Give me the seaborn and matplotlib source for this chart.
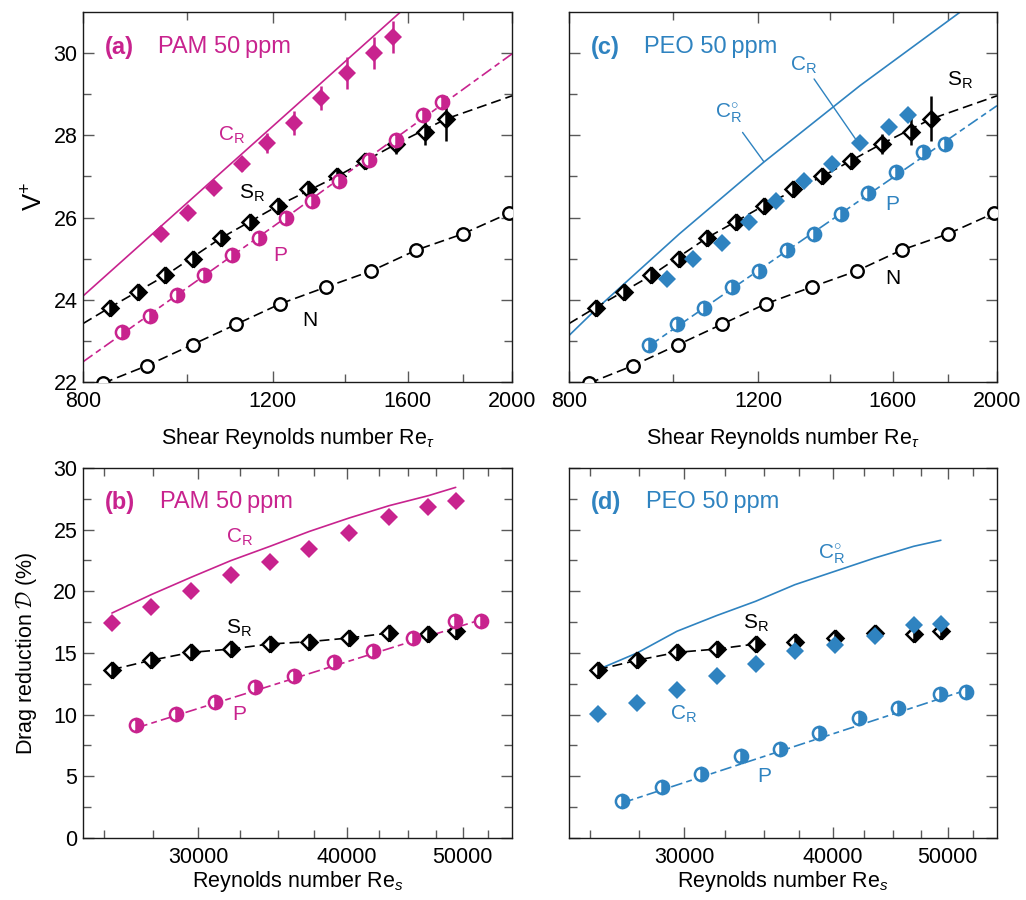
import numpy as np
import pandas as pd
import matplotlib
matplotlib.use("Agg")
import matplotlib.pyplot as plt
from matplotlib.ticker import FixedLocator, NullFormatter
import seaborn as sns

# ---------------- data : top row (velocity V+ vs Re_tau) ----------------
n_retau = [835, 918, 1011, 1109, 1219, 1345, 1481, 1631, 1800, 1989]
n_vplus = [21.97, 22.40, 22.91, 23.40, 23.90, 24.31, 24.70, 25.21, 25.60, 26.11]

sr_retau = [847, 899, 954, 1012, 1074, 1143, 1214, 1293, 1376, 1462, 1562, 1662, 1738]
sr_vplus = [23.81, 24.20, 24.59, 25.00, 25.50, 25.90, 26.29, 26.70, 27.00, 27.38, 27.79, 28.09, 28.40]
sr_vplus_err = [0, 0, 0, 0.12, 0, 0, 0, 0, 0.10, 0.20, 0.24, 0.32, 0.55]
sr_fit_retau = [800, 847, 954, 1074, 1214, 1376, 1562, 1738, 2000]
sr_fit_vplus = [23.42, 23.81, 24.59, 25.50, 26.29, 27.00, 27.79, 28.40, 28.96]

pam_p_retau = [870, 923, 977, 1036, 1100, 1166, 1234, 1304, 1383, 1473, 1562, 1654, 1722]
pam_p_vplus = [23.21, 23.61, 24.11, 24.59, 25.09, 25.50, 25.99, 26.39, 26.90, 27.40, 27.89, 28.50, 28.80]
pam_p_fit_retau = [800, 1234, 2000]
pam_p_fit_vplus = [22.49, 26.00, 29.98]

pam_cr_retau = [946, 1002, 1058, 1123, 1186, 1256, 1329, 1405, 1490, 1551]
pam_cr_vplus = [25.60, 26.11, 26.71, 27.30, 27.81, 28.30, 28.91, 29.51, 30.00, 30.40]
pam_cr_err = [0, 0, 0.12, 0.18, 0.24, 0.30, 0.30, 0.39, 0.39, 0.39]
pam_cr_line_retau = [800, 1700]
pam_cr_line_vplus = [24.09, 31.77]

peo_cr_retau = [986, 1044, 1111, 1177, 1247, 1322, 1404, 1492, 1586, 1653]
peo_cr_vplus = [24.51, 25.00, 25.38, 25.90, 26.39, 26.90, 27.30, 27.81, 28.19, 28.49]
peo_p_retau = [950, 1009, 1069, 1135, 1202, 1275, 1352, 1433, 1519, 1611, 1707, 1788]
peo_p_vplus = [22.91, 23.40, 23.81, 24.31, 24.70, 25.20, 25.60, 26.09, 26.59, 27.10, 27.60, 27.79]
peo_p_fit_retau = [950, 2000]
peo_p_fit_vplus = [22.88, 28.72]
peo_cr0_retau = [800, 847, 1013, 1213, 1492, 1849, 2000]
peo_cr0_vplus = [23.13, 23.76, 25.60, 27.34, 29.21, 31.00, 31.60]

# ---------------- data : bottom row (drag reduction vs Re_s) ----------------
res_cr = [25380, 27380, 29580, 31940, 34450, 37180, 40160, 43390, 46800, 49330]
res_p = [26600, 28730, 30980, 33470, 36110, 38990, 42070, 45390, 49270, 51800]
sr_dr = [13.65, 14.41, 15.05, 15.32, 15.73, 15.92, 16.22, 16.62, 16.54, 16.81]
pam_cr_dr = [17.43, 18.73, 20.00, 21.30, 22.38, 23.43, 24.73, 26.00, 26.81, 27.35]
pam_cr_dr_line = [18.24, 19.73, 21.14, 22.49, 23.65, 24.86, 25.95, 26.95, 27.76, 28.43]
pam_p_dr = [9.19, 10.08, 11.00, 12.22, 13.11, 14.24, 15.19, 16.22, 17.57, 17.62]
pam_p_dr_line_res = [26600, 51800]
pam_p_dr_line = [8.92, 17.70]
peo_cr_dr = [10.08, 10.95, 12.03, 13.11, 14.11, 15.19, 15.62, 16.35, 17.24, 17.35]
peo_cr0_dr = [13.65, 15.00, 16.76, 18.03, 19.19, 20.54, 21.62, 22.70, 23.65, 24.14]
peo_p_dr = [2.97, 4.11, 5.19, 6.62, 7.22, 8.51, 9.73, 10.54, 11.70, 11.81]
peo_p_dr_line_res = [26600, 51740]
peo_p_dr_line = [2.84, 11.97]

top_major = [800, 1200, 1600, 2000]
top_minor = [1000, 1400, 1800]
bot_major = [30000, 40000, 50000]
bot_minor = [25000, 27500, 32500, 35000, 37500, 42500, 45000, 47500, 52500]

# ---------------- style ----------------
sns.set_theme(style="ticks")
plt.rcParams["font.family"] = ["Liberation Sans", "DejaVu Sans"]
plt.rcParams["mathtext.fontset"] = "custom"
plt.rcParams["mathtext.rm"] = "Liberation Sans"
plt.rcParams["mathtext.it"] = "Liberation Sans:italic"
plt.rcParams["mathtext.sf"] = "Liberation Sans"
plt.rcParams["text.color"] = "black"
plt.rcParams["axes.labelcolor"] = "black"

MAG = "#C8238E"
BLU = "#2F83C0"
BLK = "black"
FS_TICK = 15.5
FS_LAB = 15.5
FS_ANN = 15
FS_TITLE = 17

dash_k = (0, (6, 3))
dash_p = (0, (7, 2.5, 3.5, 2.5))

fig = plt.figure(figsize=(10.26, 9.0), dpi=100)
axA = fig.add_axes([0.0809, 0.5756, 0.4181, 0.4111])
axC = fig.add_axes([0.5546, 0.5756, 0.4171, 0.4111])
axB = fig.add_axes([0.0809, 0.0689, 0.4181, 0.4111])
axD = fig.add_axes([0.5546, 0.0689, 0.4171, 0.4111])


def line(ax, x, y, color, ls, lw=1.2):
    sns.lineplot(x=x, y=y, ax=ax, color=color, linestyle=ls, lw=lw,
                 estimator=None, sort=False, zorder=2)


def half(ax, x, y, marker, color, ms):
    sns.lineplot(x=x, y=y, ax=ax, linestyle="", marker=marker, ms=ms,
                 color=color, mec=color, mfc=color, markerfacecoloralt="white",
                 fillstyle="right", mew=1.8, estimator=None, sort=False, zorder=4)


def full(ax, x, y, color, ms):
    sns.lineplot(x=x, y=y, ax=ax, linestyle="", marker="D", ms=ms,
                 color=color, mec=color, mfc=color, mew=0,
                 estimator=None, sort=False, zorder=4)


def errs(ax, x, y, e, color):
    ax.errorbar(x, y, yerr=e, fmt="none", ecolor=color, elinewidth=1.8,
                capsize=0, zorder=3)


def style_axis(ax, top, left_labels):
    ax.set_xscale("log")
    if top:
        ax.set_xlim(800, 2000)
        ax.set_ylim(22, 31)
        ax.xaxis.set_major_locator(FixedLocator(top_major))
        ax.set_xticklabels([str(v) for v in top_major])
        ax.xaxis.set_minor_locator(FixedLocator(top_minor))
        ax.yaxis.set_major_locator(FixedLocator([22, 24, 26, 28, 30]))
        ax.yaxis.set_minor_locator(FixedLocator([23, 25, 27, 29]))
    else:
        ax.set_xlim(24000, 55000)
        ax.set_ylim(0, 30)
        ax.xaxis.set_major_locator(FixedLocator(bot_major))
        ax.set_xticklabels([str(v) for v in bot_major])
        ax.xaxis.set_minor_locator(FixedLocator(bot_minor))
        ax.yaxis.set_major_locator(FixedLocator([0, 5, 10, 15, 20, 25, 30]))
        ax.yaxis.set_minor_locator(FixedLocator([2.5, 7.5, 12.5, 17.5, 22.5, 27.5]))
    ax.xaxis.set_minor_formatter(NullFormatter())
    ax.tick_params(which="both", direction="in", top=True, right=True,
                   color="0.35", width=1.0, labelsize=FS_TICK, pad=4,
                   labelcolor="black")
    ax.tick_params(axis="x", which="major", pad=6.5)
    ax.tick_params(which="major", length=8)
    ax.tick_params(which="minor", length=6)
    if not left_labels:
        ax.tick_params(labelleft=False)
    for s in ax.spines.values():
        s.set_color("0.1")
        s.set_linewidth(1.0)
        s.set_visible(True)
    ax.set_xlabel("")
    ax.set_ylabel("")


# ---------------- panel (a) ----------------
ax = axA
line(ax, pam_cr_line_retau, pam_cr_line_vplus, MAG, "-")
line(ax, sr_fit_retau, sr_fit_vplus, BLK, dash_k)
line(ax, pam_p_fit_retau, pam_p_fit_vplus, MAG, dash_p)
line(ax, n_retau, n_vplus, BLK, dash_k)
errs(ax, sr_retau, sr_vplus, sr_vplus_err, BLK)
errs(ax, pam_cr_retau, pam_cr_vplus, pam_cr_err, MAG)
sns.lineplot(x=n_retau, y=n_vplus, ax=ax, linestyle="", marker="o", ms=9,
             mec=BLK, mfc="white", mew=1.7, color=BLK, estimator=None, zorder=4)
half(ax, sr_retau, sr_vplus, "D", BLK, 8.5)
half(ax, pam_p_retau, pam_p_vplus, "o", MAG, 9.5)
full(ax, pam_cr_retau, pam_cr_vplus, MAG, 9.5)
ax.text(0.051, 0.905, "(a)", transform=ax.transAxes, color=MAG,
        fontsize=FS_TITLE, fontweight="bold", va="center")
ax.text(0.175, 0.905, "PAM 50\u2009ppm", transform=ax.transAxes, color=MAG,
        fontsize=FS_TITLE, va="center")
ax.text(1099, 27.99, r"C$_\mathrm{R}$", color=MAG, fontsize=FS_ANN, ha="center", va="center")
ax.text(1147, 26.59, r"S$_\mathrm{R}$", color=BLK, fontsize=FS_ANN, ha="center", va="center")
ax.text(1219, 25.08, "P", color=MAG, fontsize=FS_ANN, ha="center", va="center")
ax.text(1299, 23.50, "N", color=BLK, fontsize=FS_ANN, ha="center", va="center")
style_axis(ax, True, True)
ax.set_xlabel(r"Shear Reynolds number Re$_{\tau}$", fontsize=FS_LAB, labelpad=10)
ax.set_ylabel(r"V$^{+}$", fontsize=FS_LAB + 3, labelpad=4)

# ---------------- panel (c) ----------------
ax = axC
line(ax, peo_cr0_retau, peo_cr0_vplus, BLU, "-")
line(ax, sr_fit_retau, sr_fit_vplus, BLK, dash_k)
line(ax, peo_p_fit_retau, peo_p_fit_vplus, BLU, dash_p)
line(ax, n_retau, n_vplus, BLK, dash_k)
errs(ax, sr_retau, sr_vplus, sr_vplus_err, BLK)
sns.lineplot(x=n_retau, y=n_vplus, ax=ax, linestyle="", marker="o", ms=9,
             mec=BLK, mfc="white", mew=1.7, color=BLK, estimator=None, zorder=4)
half(ax, sr_retau, sr_vplus, "D", BLK, 8.5)
half(ax, peo_p_retau, peo_p_vplus, "o", BLU, 9.5)
full(ax, peo_cr_retau, peo_cr_vplus, BLU, 9.5)
ax.text(0.051, 0.905, "(c)", transform=ax.transAxes, color=BLU,
        fontsize=FS_TITLE, fontweight="bold", va="center")
ax.text(0.175, 0.905, "PEO 50\u2009ppm", transform=ax.transAxes, color=BLU,
        fontsize=FS_TITLE, va="center")
ax.text(1322, 29.69, r"C$_\mathrm{R}$", color=BLU, fontsize=FS_ANN, ha="center", va="center")
ax.plot([1352, 1481], [29.37, 27.87], color=BLU, lw=1.0)
ax.text(1125, 28.52, r"C$_\mathrm{R}^{\circ}$", color=BLU, fontsize=FS_ANN, ha="center", va="center")
ax.plot([1160, 1214], [28.07, 27.36], color=BLU, lw=1.0)
ax.text(1849, 29.33, r"S$_\mathrm{R}$", color=BLK, fontsize=FS_ANN, ha="center", va="center")
ax.text(1600, 26.32, "P", color=BLU, fontsize=FS_ANN, ha="center", va="center")
ax.text(1600, 24.51, "N", color=BLK, fontsize=FS_ANN, ha="center", va="center")
style_axis(ax, True, False)
ax.set_xlabel(r"Shear Reynolds number Re$_{\tau}$", fontsize=FS_LAB, labelpad=10)

# ---------------- panel (b) ----------------
ax = axB
line(ax, res_cr, pam_cr_dr_line, MAG, "-")
line(ax, res_cr[:8], sr_dr[:8], BLK, dash_k)
line(ax, pam_p_dr_line_res, pam_p_dr_line, MAG, dash_p)
half(ax, res_cr, sr_dr, "D", BLK, 8.5)
half(ax, res_p, pam_p_dr, "o", MAG, 9.5)
full(ax, res_cr, pam_cr_dr, MAG, 9.5)
ax.text(0.051, 0.908, "(b)", transform=ax.transAxes, color=MAG,
        fontsize=FS_TITLE, fontweight="bold", va="center")
ax.text(0.18, 0.908, "PAM 50\u2009ppm", transform=ax.transAxes, color=MAG,
        fontsize=FS_TITLE, va="center")
ax.text(32470, 24.4, r"C$_\mathrm{R}$", color=MAG, fontsize=FS_ANN, ha="center", va="center")
ax.text(32470, 17.03, r"S$_\mathrm{R}$", color=BLK, fontsize=FS_ANN, ha="center", va="center")
ax.text(32480, 10.0, "P", color=MAG, fontsize=FS_ANN, ha="center", va="center")
style_axis(ax, False, True)
ax.set_xlabel(r"Reynolds number Re$_{s}$", fontsize=FS_LAB, labelpad=1)
ax.set_ylabel(r"Drag reduction $\mathcal{D}$ (%)", fontsize=FS_LAB, labelpad=10)
ax.yaxis.label.set_math_fontfamily("cm")

# ---------------- panel (d) ----------------
ax = axD
line(ax, res_cr, peo_cr0_dr, BLU, "-")
line(ax, res_cr[:5], sr_dr[:5], BLK, dash_k)
line(ax, peo_p_dr_line_res, peo_p_dr_line, BLU, dash_p)
half(ax, res_cr, sr_dr, "D", BLK, 8.5)
half(ax, res_p, peo_p_dr, "o", BLU, 9.5)
full(ax, res_cr, peo_cr_dr, BLU, 9.5)
ax.text(0.051, 0.908, "(d)", transform=ax.transAxes, color=BLU,
        fontsize=FS_TITLE, fontweight="bold", va="center")
ax.text(0.18, 0.908, "PEO 50\u2009ppm", transform=ax.transAxes, color=BLU,
        fontsize=FS_TITLE, va="center")
ax.text(39900, 22.97, r"C$_\mathrm{R}^{\circ}$", color=BLU, fontsize=FS_ANN, ha="center", va="center")
ax.text(34480, 17.43, r"S$_\mathrm{R}$", color=BLK, fontsize=FS_ANN, ha="center", va="center")
ax.text(29960, 10.0, r"C$_\mathrm{R}$", color=BLU, fontsize=FS_ANN, ha="center", va="center")
ax.text(35020, 5.0, "P", color=BLU, fontsize=FS_ANN, ha="center", va="center")
style_axis(ax, False, False)
ax.set_xlabel(r"Reynolds number Re$_{s}$", fontsize=FS_LAB, labelpad=1)

fig.savefig("out.png", dpi=100)
